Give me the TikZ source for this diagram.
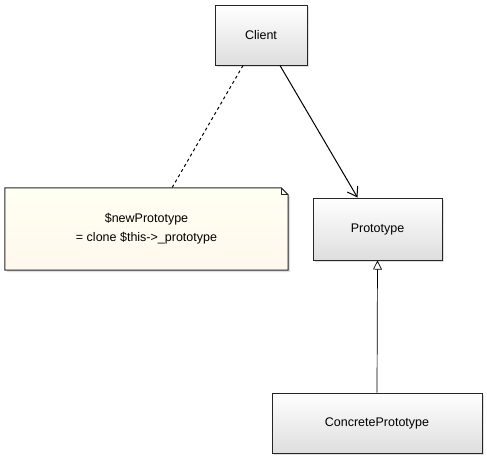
\documentclass[tikz,border=0pt]{standalone}
\usepackage{fontspec}
\setmainfont{Liberation Sans}
\usetikzlibrary{arrows.meta,shadows}

\tikzset{
  classbox/.style={draw=black!85, line width=1pt, top color=white, bottom color=black!13,
    drop shadow={opacity=0.25, shadow xshift=2pt, shadow yshift=-2pt},
    font=\fontsize{12.5}{15}\selectfont},
  notebox/.style={draw=black!85, line width=1pt, top color=yellow!5, bottom color=yellow!14!orange!7,
    drop shadow={opacity=0.25, shadow xshift=2pt, shadow yshift=-2pt}},
  notetext/.style={align=center, font=\fontsize{12.5}{19}\selectfont},
  uses/.style={-{Straight Barb[length=9pt,width=12pt]}, line width=1pt},
  extends/.style={-{Triangle[open,length=9pt,width=9pt]}, line width=0.7pt},
}

\begin{document}
\begin{tikzpicture}[x=1pt, y=-1pt]
    \useasboundingbox (0,0) rectangle (487,459);

    % classes
    \node[classbox, minimum width=92pt, minimum height=60pt] (client) at (261,35) {Client};
    \node[classbox, minimum width=129pt, minimum height=62pt] (proto) at (377.5,229) {Prototype};
    \node[classbox, minimum width=210pt, minimum height=60pt] (concrete) at (377,423) {ConcretePrototype};

    % note with folded corner
    \node[minimum width=283pt, minimum height=82pt] (note) at (146.5,229) {};
    \draw[notebox] (note.south west) -- (note.north west) -- ([xshift=-7pt]note.north east)
      -- ([yshift=-7pt]note.north east) -- (note.south east) -- cycle;
    \draw[black!85, line width=0.7pt] ([xshift=-7pt]note.north east) -- ([xshift=-7pt,yshift=-7pt]note.north east)
      -- ([yshift=-7pt]note.north east);
    \node[notetext] (notelabel) at (note) {\$newPrototype\\= clone \$this->\_prototype};

    % connectors
    \draw[dashed, line width=1pt] ([xshift=-18pt]client.south) -- ([xshift=25.5pt]note.north);
    \draw[uses] ([xshift=19pt]client.south) -- ([xshift=-20pt]proto.north);
    \draw[extends] (concrete.north) -- (proto.south);
\end{tikzpicture}
\end{document}
